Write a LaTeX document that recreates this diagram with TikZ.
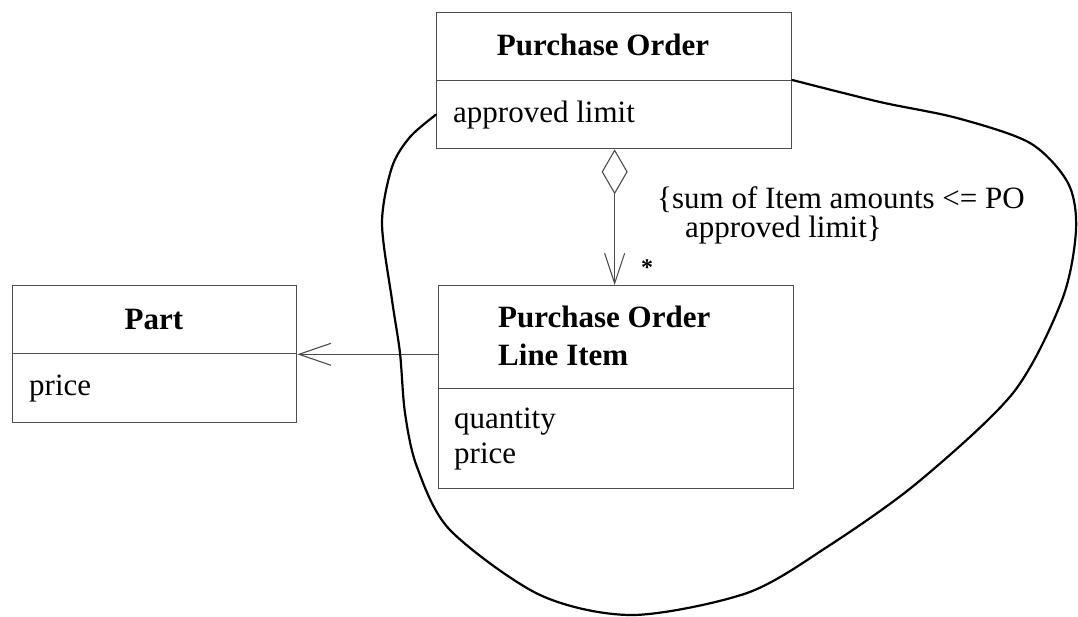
\documentclass[tikz,border=0pt]{standalone}
\usepackage{fontspec}
\setmainfont{Liberation Serif}
\usetikzlibrary{arrows.meta}
\begin{document}
\begin{tikzpicture}[x=1pt,y=-1pt,
  box/.style={draw=black!70, line width=1.3pt, inner sep=0pt, anchor=north west},
  cls/.style={font=\fontsize{31}{38}\selectfont\bfseries, inner sep=0pt},
  attr/.style={font=\fontsize{31}{35}\selectfont, inner sep=0pt, anchor=base west},
  link/.style={draw=black!70, line width=1.1pt},
  blob/.style={line width=2.2pt, line join=round, line cap=round}]
\useasboundingbox (0,0) rectangle (1078,616);
% Purchase Order
\node[box, minimum width=355pt, minimum height=68pt] (poN) at (436,12) {};
\node[box, minimum width=355pt, minimum height=68pt] (poA) at (436,80) {};
\node[cls, anchor=base] (poT) at (603,55) {Purchase Order};
\node[attr] (poAt) at (453,122) {approved limit};
% Part
\node[box, minimum width=284pt, minimum height=68pt] (pN) at (12,285) {};
\node[box, minimum width=284pt, minimum height=69pt] (pA) at (12,353) {};
\node[cls, anchor=base] (pT) at (154,329) {Part};
\node[attr] (pAt) at (29,395) {price};
% Line Item
\node[box, minimum width=355pt, minimum height=103pt] (liN) at (438,285) {};
\node[box, minimum width=355pt, minimum height=100pt] (liA) at (438,388) {};
\node[cls, anchor=base west, align=left] (liT) at (498,365) {Purchase Order\\Line Item};
\node[attr, align=left] (liAt) at (454,463) {quantity\\price};
% aggregation
\draw[link, {Diamond[open, length=45pt, width=26pt, line width=1.1pt]}-{Straight Barb[length=30pt, width=20pt, line width=1.1pt]}]
  ([xshift=0.5pt]poA.south) -- ([xshift=0.5pt]poA.south |- liN.north);
\node[font=\fontsize{24}{24}\selectfont\bfseries, inner sep=0pt] (mult) at (647,268) {*};
\node[attr, align=left, font=\fontsize{31}{29}\selectfont] (cons) at (657,237)
  {\{sum of Item amounts <= PO\\\hspace*{28pt}approved limit\}};
% association
\draw[link, -{Straight Barb[length=32pt, width=22pt, line width=1.1pt]}]
  (liN.west |- pN.south east) -- (pN.south east);
% constraint scope
\draw[blob] plot[smooth, tension=0.5] coordinates {(poA.west) (410,137) (392,167) (382,223) (392,300) (400,353) (405,413) (417,467) (450,530) (540,595) (633,615) (747,593) (827,547) (917,483) (1013,393) (1062,300) (1076,230) (1068,183) (1030,143) (957,118) (880,102) (poA.north east)};
\end{tikzpicture}
\end{document}
